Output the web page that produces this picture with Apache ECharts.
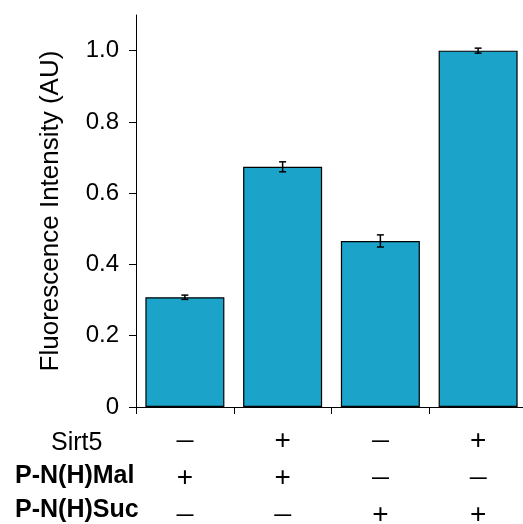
<!DOCTYPE html>
<html>
<head>
<meta charset="utf-8">
<script src="https://cdn.jsdelivr.net/npm/echarts@6/dist/echarts.min.js"></script>
<style>
  html, body { margin: 0; padding: 0; background: #ffffff; }
  #chart { width: 523px; height: 524px; }
</style>
</head>
<body>
<div id="chart"></div>
<script>
// Condition rows under each bar ('+' present, '-' absent)
const rowNames = ['Sirt5', 'P-N(H)Mal', 'P-N(H)Suc'];
const sirt5 = ['-', '+', '-', '+'];
const malSubstrate = ['+', '+', '-', '-'];
const sucSubstrate = ['-', '-', '+', '+'];

// Mean fluorescence and error (AU)
const intensity = [0.308, 0.674, 0.466, 1.0];
const intensityErr = [0.006, 0.014, 0.017, 0.007];

const yTicks = [0, 0.2, 0.4, 0.6, 0.8, 1.0];

const categories = sirt5.map((s, i) => [s, malSubstrate[i], sucSubstrate[i]].join('|'));

function symbolLine(c) {
  return c === '+' ? '{p|+}' : '{m|\u2014}';
}

const chart = echarts.init(document.getElementById('chart'), null, { renderer: 'canvas' });

const FONT = 'Liberation Sans, Arial, Helvetica, sans-serif';

chart.setOption({
  animation: false,
  backgroundColor: '#ffffff',
  grid: { left: 136, right: -4, top: 15, bottom: 117, containLabel: false, outerBoundsMode: 'none' },
  xAxis: {
    type: 'category',
    data: categories,
    axisLine: { lineStyle: { color: '#000', width: 1 } },
    axisTick: { show: true, length: 7, lineStyle: { color: '#000', width: 1 } },
    axisLabel: {
      margin: 16,
      interval: 0,
      verticalAlign: 'top',
      formatter: function (v) {
        return v.split('|').map(symbolLine).join('\n');
      },
      rich: {
        p: { fontFamily: FONT, fontSize: 28, color: '#000', lineHeight: 37, height: 37 },
        m: { fontFamily: FONT, fontSize: 17, fontWeight: 'bold', color: '#000', lineHeight: 37, height: 37 }
      }
    }
  },
  yAxis: {
    type: 'value',
    min: 0,
    max: 1.1,
    interval: 0.2,
    name: 'Fluorescence Intensity (AU)',
    nameLocation: 'middle',
    nameGap: 72,
    nameTextStyle: { fontFamily: FONT, fontSize: 26, color: '#000' },
    splitLine: { show: false },
    axisLine: { show: true, lineStyle: { color: '#000', width: 1 } },
    axisTick: { show: true, length: 7, customValues: yTicks, lineStyle: { color: '#000', width: 1 } },
    axisLabel: {
      margin: 17,
      customValues: yTicks,
      fontFamily: FONT,
      fontSize: 24,
      color: '#000',
      formatter: function (v) { return v === 0 ? '0' : v.toFixed(1); }
    }
  },
  graphic: rowNames.map((name, i) => ({
    type: 'text',
    left: 77 - (i === 0 ? 26 : 62),
    top: [431, 464, 498][i],
    style: {
      text: name,
      fontFamily: FONT,
      fontSize: 25,
      fontWeight: i === 0 ? 'normal' : 'bold',
      fill: '#000'
    }
  })),
  series: [
    {
      type: 'bar',
      data: intensity,
      barWidth: 79,
      itemStyle: { color: '#1ba3c9', borderColor: '#000', borderWidth: 1.2 }
    },
    {
      type: 'custom',
      data: intensity.map((v, i) => [i, v - intensityErr[i], v + intensityErr[i]]),
      encode: { x: 0, y: [1, 2] },
      z: 10,
      renderItem: function (params, api) {
        const i = api.value(0);
        const lo = api.coord([i, api.value(1)]);
        const hi = api.coord([i, api.value(2)]);
        const cap = 3.5;
        const style = { stroke: '#000', lineWidth: 1.5 };
        return {
          type: 'group',
          children: [
            { type: 'line', shape: { x1: lo[0], y1: lo[1], x2: hi[0], y2: hi[1] }, style: style },
            { type: 'line', shape: { x1: hi[0] - cap, y1: hi[1], x2: hi[0] + cap, y2: hi[1] }, style: style },
            { type: 'line', shape: { x1: lo[0] - cap, y1: lo[1], x2: lo[0] + cap, y2: lo[1] }, style: style }
          ]
        };
      }
    }
  ]
});
</script>
</body>
</html>
